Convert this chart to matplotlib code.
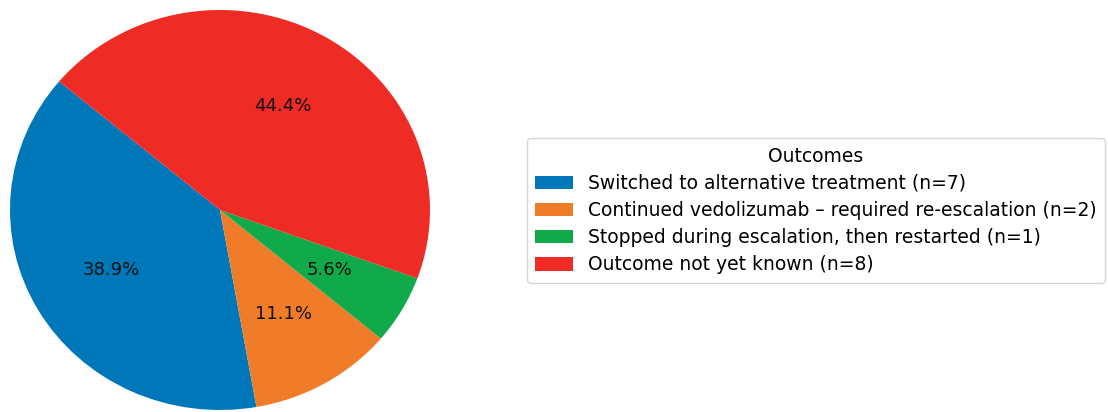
import matplotlib
matplotlib.use("Agg")
import matplotlib.pyplot as plt

# outcome groups and patient counts
labels = [
    "Switched to alternative treatment (n=7)",
    "Continued vedolizumab \u2013 required re-escalation (n=2)",
    "Stopped during escalation, then restarted (n=1)",
    "Outcome not yet known (n=8)",
]
counts = [7, 2, 1, 8]
colors = ["#0077B8", "#F07C2A", "#10AA4A", "#EE2B25"]

W, H = 1108, 412
fig = plt.figure(figsize=(W / 100, H / 100), dpi=100)

# pie axes placed in pixel units (left, bottom, width, height)
ax = fig.add_axes([10 / W, 2 / H, 420 / W, 400 / H])
wedges, texts, autotexts = ax.pie(
    counts,
    colors=colors,
    startangle=140,
    autopct="%1.1f%%",
    pctdistance=0.6,
    textprops={"fontsize": 13, "color": "#111111"},
)
ax.set_aspect("auto")
ax.set_xlim(-1.0, 1.0)
ax.set_ylim(-1.0, 1.0)

fig.legend(
    wedges,
    labels,
    title="Outcomes",
    fontsize=13.5,
    title_fontsize=13.5,
    labelspacing=0.44,
    borderpad=0.45,
    loc="center left",
    bbox_to_anchor=(527 / W, 1 - 210.5 / H),
    borderaxespad=0,
    frameon=True,
)

fig.savefig("out.png", dpi=100)
